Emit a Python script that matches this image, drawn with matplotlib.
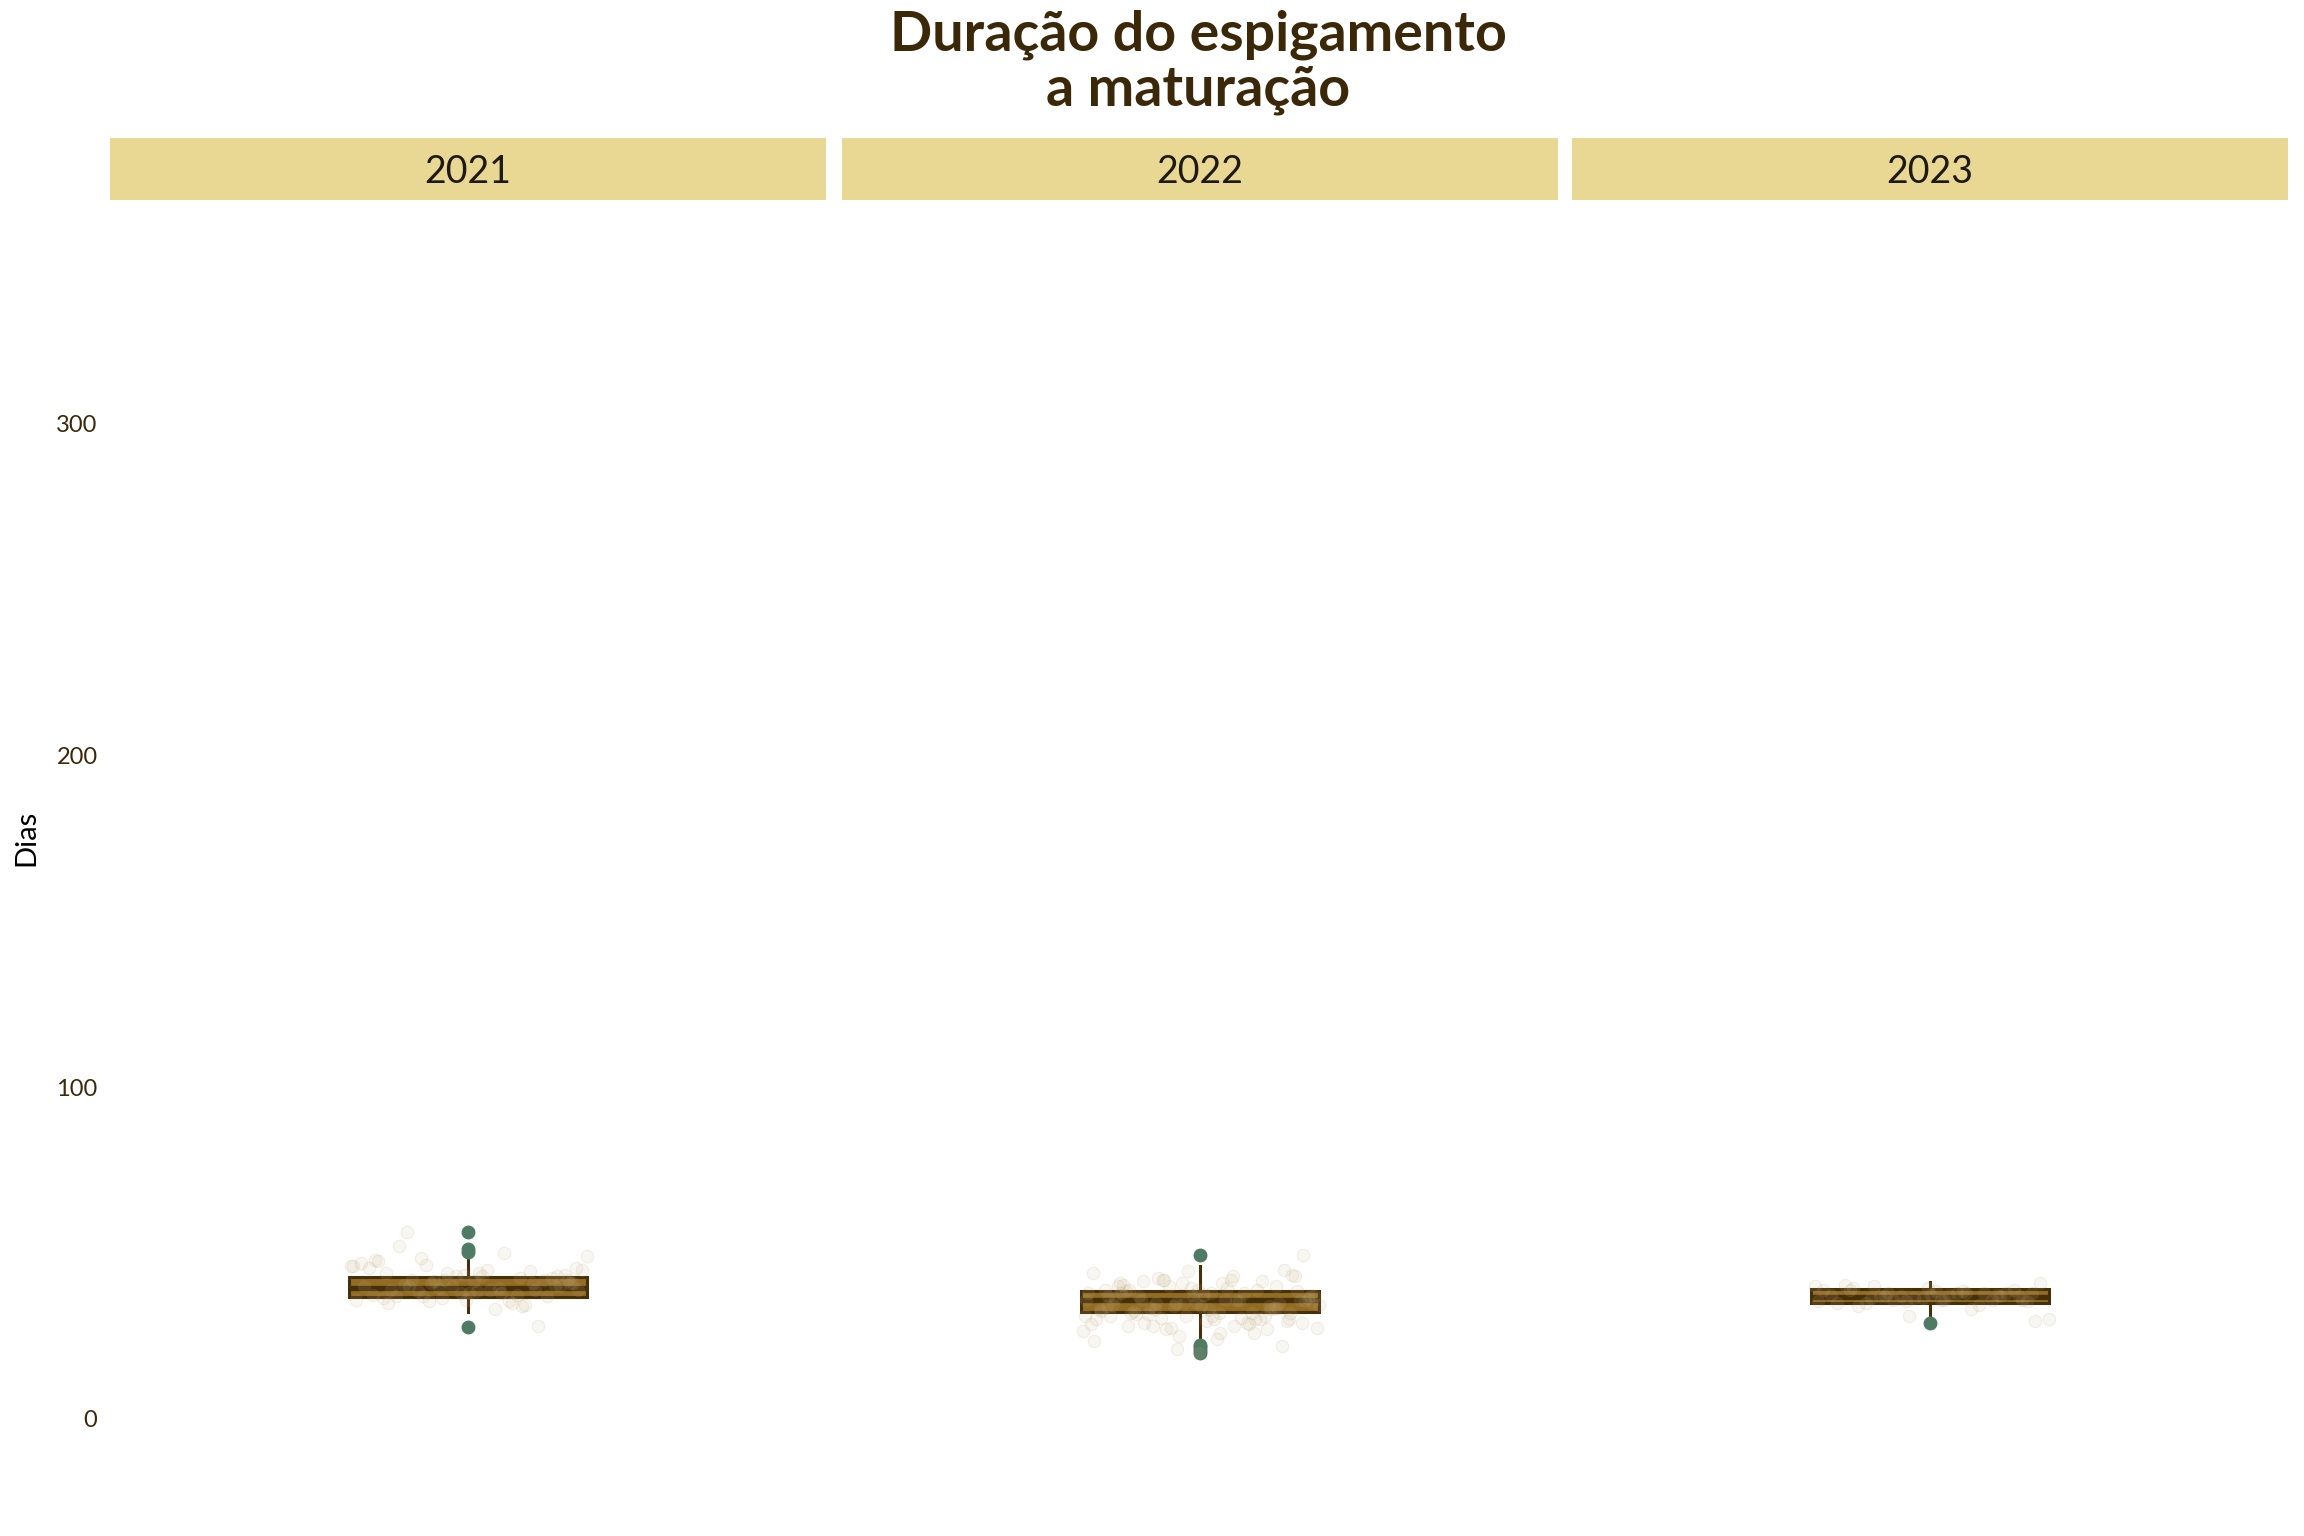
import numpy as np
import matplotlib
matplotlib.use("Agg")
from matplotlib import pyplot as plt

# summary stats (days)
years = ["2021", "2022", "2023"]
q1 = [36.8, 32.3, 35.0]
medians = [39.5, 35.9, 36.8]
q3 = [42.8, 38.6, 39.2]
whis_lo = [32.3, 24.7, 30.5]
whis_hi = [48.9, 46.2, 41.3]
outliers = [[56.4, 51.2, 50.4, 27.8],
            [49.5, 22.4, 21.6, 20.8, 19.8],
            [28.9]]

# individual observations (faint jittered points)
pts_2021 = [37, 41, 44, 35, 39, 42, 46, 38, 40, 43, 36, 48, 34, 41, 39, 45, 37, 42,
            40, 47, 35.5, 38.5, 43.5, 41.5, 36.5, 44.5, 39.5, 49, 33, 40.5, 42.5, 38,
            45.5, 37.5, 46.5, 41, 43, 39, 28, 44, 36, 50, 42, 40, 38, 47.5, 34.5, 41.5,
            45, 39, 52, 37, 43, 40, 35, 48.5, 42, 38.5, 44, 41, 36.5, 46, 39.5, 56.5,
            40, 43.5, 37.5, 42.5, 35.5, 45.5]
pts_2022 = [33, 29, 38, 41, 27, 35, 31, 43, 36, 30, 39, 34, 26, 42, 37, 32, 28, 40,
            35, 44, 30.5, 33.5, 38.5, 29.5, 36.5, 41.5, 27.5, 34.5, 39.5, 31.5, 45,
            37.5, 32.5, 28.5, 42.5, 35.5, 30, 40.5, 33, 25, 38, 36, 29, 43.5, 34, 31,
            39, 27, 37, 41, 32, 35, 44.5, 30, 38, 28, 36, 33, 40, 31, 34, 26.5, 42,
            37, 29.5, 35, 39, 32, 30.5, 36.5, 24, 38.5, 33.5, 41, 28.5, 35.5, 31.5,
            43, 37.5, 34.5, 30, 40, 27.5, 36, 32.5, 22, 39.5, 33, 29, 35, 49.5, 31,
            38, 34, 21, 36, 28, 41.5, 32, 20, 37, 30, 42, 35, 26, 39, 33.5, 31, 23.5]
pts_2023 = [37, 38, 36, 39, 37.5, 35.5, 40, 38.5, 36.5, 37, 39.5, 35, 38, 36, 41,
            37.5, 34, 38, 36.5, 39, 33, 37, 35.5, 38.5, 40.5, 36, 37, 30, 38, 35,
            39, 36.5, 37.5, 34.5, 38, 29.5, 36, 39.5, 37, 31, 35.5, 38, 40, 36, 37.5]
points = [pts_2021, pts_2022, pts_2023]

title_col = "#3b2808"
box_fill = "#936b22"
box_edge = "#45300c"
out_col = "#4f7a63"
strip_col = "#e9d794"

plt.rcParams["font.family"] = ["Lato", "DejaVu Sans"]

fig = plt.figure(figsize=(23.04, 15.36), dpi=100)

W, H = 2304.0, 1536.0
lefts = [110, 842, 1572]
pw = 716
p_top, p_bot = 200, 1477
s_top = 138

for i, yr in enumerate(years):
    ax = fig.add_axes([lefts[i] / W, 1 - p_bot / H, pw / W, (p_bot - p_top) / H])
    stats = [dict(med=medians[i], q1=q1[i], q3=q3[i], whislo=whis_lo[i],
                  whishi=whis_hi[i], fliers=outliers[i])]
    ax.bxp(stats, positions=[1], widths=0.4, patch_artist=True, showcaps=False,
           boxprops=dict(facecolor=box_fill, edgecolor=box_edge, linewidth=2.2),
           medianprops=dict(color=box_edge, linewidth=3.8),
           whiskerprops=dict(color=box_edge, linewidth=2.2),
           flierprops=dict(marker="o", markerfacecolor=out_col, markeredgecolor=out_col,
                           markersize=9))
    n = len(points[i])
    jit = ((np.arange(n) * 0.6180339887 + 0.31) % 1 - 0.5) * 0.4
    ax.scatter(1 + jit, points[i], s=80, facecolor="#cdb88e", edgecolor="#a88a50",
               linewidths=0.8, alpha=0.12, zorder=5)

    ax.set_xlim(0.4, 1.6)
    ax.set_ylim(-17.5, 367.5)
    ax.set_yticks([0, 100, 200, 300])
    ax.set_xticks([])
    for s in ax.spines.values():
        s.set_visible(False)
    ax.tick_params(axis="y", length=0, pad=9, labelsize=17, labelcolor=title_col)
    if i > 0:
        ax.set_yticklabels([])

    sax = fig.add_axes([lefts[i] / W, 1 - p_top / H, pw / W, (p_top - s_top) / H])
    sax.set_facecolor(strip_col)
    sax.set_xticks([])
    sax.set_yticks([])
    for s in sax.spines.values():
        s.set_visible(False)
    sax.text(0.5, 0.45, yr, ha="center", va="center", fontsize=27,
             fontweight="normal", color="#1e1a12", transform=sax.transAxes)

fig.text(26 / W, 1 - 838 / H, "Dias", rotation=90, ha="center", va="center",
         fontsize=21, color="black")

fig.text((110 + 2287) / 2 / W, 1 - 10 / H, "Duração do espigamento\na maturação",
         ha="center", va="top", fontsize=40, fontweight="bold", color=title_col,
         linespacing=1.1)

fig.savefig("out.png", dpi=100)
